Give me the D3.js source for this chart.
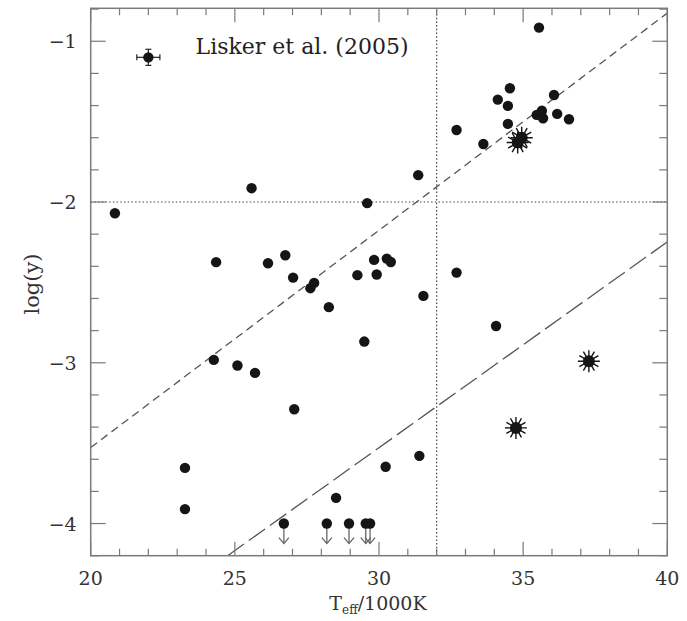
<!DOCTYPE html>
<html><head><meta charset="utf-8">
<script src="https://cdn.jsdelivr.net/npm/d3@7"></script>
<style>body{margin:0;background:#fff;} svg{display:block;}</style>
</head><body>
<svg id="c" width="687" height="621"></svg>
<script>
// Data: Teff/1000K and log(y)
const circleTeff = [20.84,24.35,24.27,25.09,23.27,23.27,27.06,31.40,30.23,28.51,31.36,25.58,29.59,26.15,26.75,27.02,27.75,27.62,28.26,29.25,29.83,29.92,30.27,30.41,31.54,29.49,32.69,25.70,34.06,35.55,34.54,34.12,34.47,36.07,32.69,33.62,34.47,35.47,35.65,35.69,36.18,36.59];
const circleLogY = [-2.07,-2.374,-2.982,-3.017,-3.654,-3.91,-3.289,-3.579,-3.647,-3.84,-1.833,-1.914,-2.007,-2.381,-2.331,-2.47,-2.503,-2.536,-2.654,-2.455,-2.36,-2.451,-2.352,-2.373,-2.584,-2.868,-2.439,-3.063,-2.771,-0.915,-1.292,-1.363,-1.402,-1.334,-1.552,-1.639,-1.514,-1.458,-1.432,-1.479,-1.452,-1.485];
const limitTeff = [26.70,28.19,28.96,29.54,29.69];
const limitLogY = [-4.0,-4.0,-4.0,-4.0,-4.0];
const starTeff = [34.95,34.81,37.28,34.75];
const starLogY = [-1.60,-1.63,-2.99,-3.405];
const errPoint = {teff:22.0, logy:-1.10, dTeff:0.4, dLogY:0.05};
const xTicks = [20,25,30,35,40];
const yTicks = [-1,-2,-3,-4];
const shortDash = {x:[20,40], y:[-3.527,-0.825]};
const longDash = {x:[24.75,40], y:[-4.2,-2.248]};
const hLineY = -2, vLineX = 32;

const svg = d3.select("#c");
const L=90.7, R=667.3, T=8.3, B=555.7;
const x = d3.scaleLinear().domain([20,40]).range([L,R]);
const y = d3.scaleLinear().domain([-4.2,-0.795]).range([B,T]);
const axisCol="#7a7a7a", txtCol="#333";
const font="'DejaVu Serif','Liberation Serif',serif";

const defs = svg.append("defs");
defs.append("clipPath").attr("id","clip").append("rect").attr("x",L).attr("y",T).attr("width",R-L).attr("height",B-T);
const plot = svg.append("g").attr("clip-path","url(#clip)");

// reference lines
plot.append("line").attr("x1",x(20)).attr("x2",x(40)).attr("y1",y(hLineY)).attr("y2",y(hLineY))
  .attr("stroke","#444").attr("stroke-width",1.2).attr("stroke-dasharray","1.5,2.2");
plot.append("line").attr("x1",x(vLineX)).attr("x2",x(vLineX)).attr("y1",y(-4.2)).attr("y2",y(-0.795))
  .attr("stroke","#444").attr("stroke-width",1.2).attr("stroke-dasharray","1.5,2.2");
plot.append("line").attr("x1",x(shortDash.x[0])).attr("x2",x(shortDash.x[1])).attr("y1",y(shortDash.y[0])).attr("y2",y(shortDash.y[1]))
  .attr("stroke","#555").attr("stroke-width",1.3).attr("stroke-dasharray","8,5");
plot.append("line").attr("x1",x(longDash.x[0])).attr("x2",x(longDash.x[1])).attr("y1",y(longDash.y[0])).attr("y2",y(longDash.y[1]))
  .attr("stroke","#555").attr("stroke-width",1.3).attr("stroke-dasharray","20,6");

// axes frame
svg.append("rect").attr("x",L).attr("y",T).attr("width",R-L).attr("height",B-T)
  .attr("fill","none").attr("stroke",axisCol).attr("stroke-width",1.5);

// ticks
const tg = svg.append("g").attr("stroke",axisCol).attr("stroke-width",1.2);
d3.range(20,40.001,1).forEach(v=>{
  const major = Math.abs(v%5)<1e-6; const len = major?14:7;
  tg.append("line").attr("x1",x(v)).attr("x2",x(v)).attr("y1",B).attr("y2",B-len);
  tg.append("line").attr("x1",x(v)).attr("x2",x(v)).attr("y1",T).attr("y2",T+len);
});
d3.range(-4.2,-0.79,0.2).forEach(v=>{
  const major = Math.abs(v-Math.round(v))<1e-6; const len = major?15:8;
  tg.append("line").attr("x1",L).attr("x2",L+len).attr("y1",y(v)).attr("y2",y(v));
  tg.append("line").attr("x1",R).attr("x2",R-len).attr("y1",y(v)).attr("y2",y(v));
});

// tick labels
svg.append("g").selectAll("text").data(xTicks).join("text")
  .attr("x",d=>x(d)).attr("y",B+29).attr("text-anchor","middle")
  .attr("font-family",font).attr("font-size",19).attr("fill",txtCol).text(d=>d);
svg.append("g").selectAll("text").data(yTicks).join("text")
  .attr("x",L-14).attr("y",d=>y(d)+7).attr("text-anchor","end")
  .attr("font-family",font).attr("font-size",19).attr("fill",txtCol).text(d=>"\u2212"+Math.abs(d));

// axis titles
const xt = svg.append("text").attr("x",378).attr("y",610).attr("text-anchor","middle")
  .attr("font-family",font).attr("font-size",19).attr("fill",txtCol);
xt.append("tspan").text("T");
xt.append("tspan").attr("font-size",12).attr("dy",4).text("eff");
xt.append("tspan").attr("dy",-4).text("/1000K");
svg.append("text").attr("transform","translate(39,284) rotate(-90)").attr("text-anchor","middle")
  .attr("font-family",font).attr("font-size",21).attr("fill",txtCol).text("log(y)");

// title
svg.append("text").attr("x",302).attr("y",54).attr("text-anchor","middle")
  .attr("font-family",font).attr("font-size",22).attr("fill","#222").text("Lisker et al. (2005)");

// upper-limit arrows
const ag = plot.append("g").attr("stroke","#666").attr("stroke-width",1.3).attr("fill","none");
limitTeff.forEach((t,i)=>{
  const cx=x(t), cy=y(limitLogY[i]);
  ag.append("line").attr("x1",cx).attr("x2",cx).attr("y1",cy).attr("y2",cy+20);
  ag.append("path").attr("d",`M${cx-5},${cy+14} L${cx},${cy+20} L${cx+5},${cy+14}`);
});

// circles
const pts = circleTeff.map((t,i)=>({t, v:circleLogY[i]})).concat(limitTeff.map((t,i)=>({t, v:limitLogY[i]})));
plot.append("g").selectAll("circle").data(pts).join("circle")
  .attr("cx",d=>x(d.t)).attr("cy",d=>y(d.v)).attr("r",5.2).attr("fill","#151515");

// error bar point
const eg = svg.append("g").attr("stroke","#222").attr("stroke-width",1.2);
const ex=x(errPoint.teff), ey=y(errPoint.logy);
const ex0=x(errPoint.teff-errPoint.dTeff), ex1=x(errPoint.teff+errPoint.dTeff);
const ey0=y(errPoint.logy+errPoint.dLogY), ey1=y(errPoint.logy-errPoint.dLogY);
eg.append("line").attr("x1",ex0).attr("x2",ex1).attr("y1",ey).attr("y2",ey);
eg.append("line").attr("x1",ex).attr("x2",ex).attr("y1",ey0).attr("y2",ey1);
eg.append("line").attr("x1",ex0).attr("x2",ex0).attr("y1",ey-3).attr("y2",ey+3);
eg.append("line").attr("x1",ex1).attr("x2",ex1).attr("y1",ey-3).attr("y2",ey+3);
eg.append("line").attr("x1",ex-3).attr("x2",ex+3).attr("y1",ey0).attr("y2",ey0);
eg.append("line").attr("x1",ex-3).attr("x2",ex+3).attr("y1",ey1).attr("y2",ey1);
svg.append("circle").attr("cx",ex).attr("cy",ey).attr("r",5.2).attr("fill","#151515");

// stars
const sg = plot.append("g");
starTeff.forEach((t,i)=>{
  const cx=x(t), cy=y(starLogY[i]);
  const g = sg.append("g");
  for(let k=0;k<12;k++){
    const a=k*Math.PI/6;
    g.append("line").attr("x1",cx).attr("y1",cy).attr("x2",cx+11*Math.cos(a)).attr("y2",cy+11*Math.sin(a))
      .attr("stroke","#151515").attr("stroke-width",1.4);
  }
  g.append("circle").attr("cx",cx).attr("cy",cy).attr("r",6).attr("fill","#151515");
});
</script>
</body></html>
